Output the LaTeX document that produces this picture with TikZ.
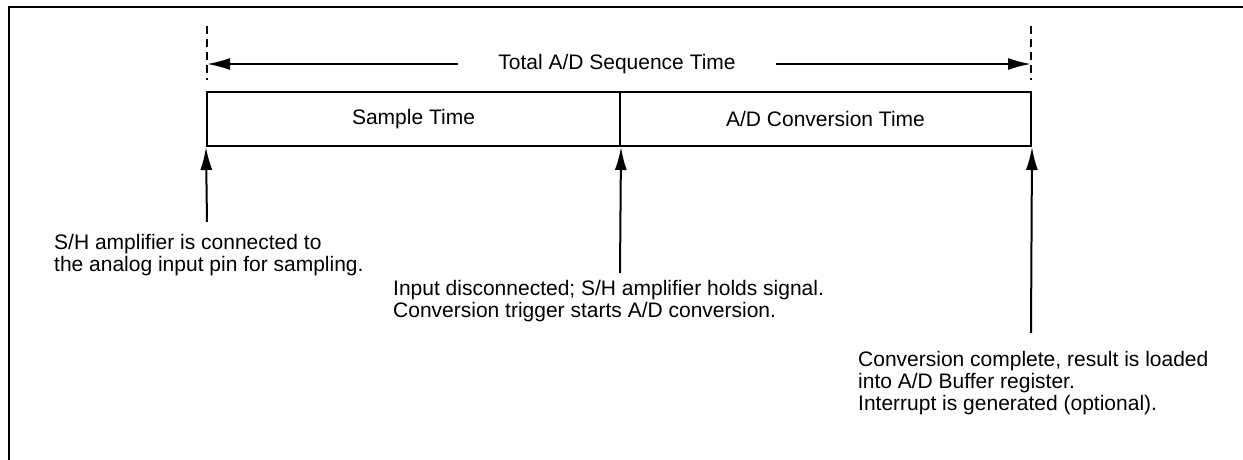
\documentclass[tikz,border=0pt]{standalone}
\usepackage{fontspec}
\setmainfont{Liberation Sans}
\usetikzlibrary{arrows.meta}
\begin{document}
\begin{tikzpicture}[x=1pt,y=-1pt,
  txt/.style={font=\fontsize{21}{22}\selectfont},
  lbl/.style={txt, inner sep=0pt, align=left, anchor=north west},
  seg/.style={txt, draw, line width=2pt, minimum height=54pt, inner sep=0pt},
  arr/.style={-{Latex[length=23pt,width=12pt]}, line width=2pt},
  dsh/.style={dash pattern=on 8pt off 5pt, line width=2pt}]
\useasboundingbox (0,0) rectangle (1243,460);
% frame
\draw[line width=2.5pt] (9,470) -- (9,7) -- (1260,7);
% time segments
\node[seg, minimum width=413pt] (sample) at (413.5,119) {Sample Time};
\node[seg, minimum width=411pt] (conv) at (825.5,119) {A/D Conversion Time};
% total time
\node[txt, inner xsep=40pt, inner ysep=0pt] (total) at (617,64) {Total A/D Sequence Time};
\coordinate (tl) at (207,64);
\coordinate (tr) at (1031,64);
\draw[arr] (total.west) -- (tl);
\draw[arr] (total.east) -- (tr);
% dashed markers
\coordinate (dl1) at (207,26);
\coordinate (dl2) at (207,80);
\coordinate (dr1) at (1031,26);
\coordinate (dr2) at (1031,80);
\draw[dsh] (dl1) -- (dl2);
\draw[dsh] (dr1) -- (dr2);
% event arrows
\coordinate (a1) at (207,222);
\coordinate (a2) at (620,273);
\coordinate (a3) at (1031,333);
\draw[arr] (a1) -- (sample.south west);
\draw[arr] (a2) -- (sample.south east);
\draw[arr] (a3) -- (conv.south east);
% labels
\node[lbl] (t1) at (54,234) {S/H amplifier is connected to\\the analog input pin for sampling.};
\node[lbl] (t2) at (393,280) {Input disconnected; S/H amplifier holds signal.\\Conversion trigger starts A/D conversion.};
\node[lbl] (t3) at (858,351) {Conversion complete, result is loaded\\into A/D Buffer register.\\Interrupt is generated (optional).};
\end{tikzpicture}
\end{document}
